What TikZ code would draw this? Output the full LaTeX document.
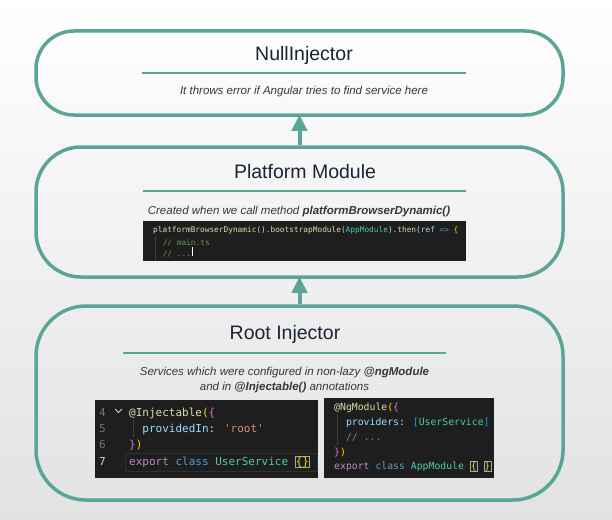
\documentclass[tikz,border=0pt]{standalone}
\usepackage{fontspec}
\setmainfont{Liberation Sans}
\newfontfamily\codefont{DejaVu Sans Mono}
\usetikzlibrary{arrows.meta}
\definecolor{teal1}{RGB}{90,165,152}
\definecolor{navy}{RGB}{25,36,52}
\definecolor{subgray}{RGB}{55,55,55}
\definecolor{codebg}{RGB}{30,30,30}
\definecolor{cfn}{RGB}{220,220,170}
\definecolor{cvar}{RGB}{156,220,254}
\definecolor{cstr}{RGB}{206,145,120}
\definecolor{ckw}{RGB}{197,134,192}
\definecolor{cblue}{RGB}{86,156,214}
\definecolor{ctype}{RGB}{78,201,176}
\definecolor{cgold}{RGB}{255,215,0}
\definecolor{corch}{RGB}{218,112,214}
\definecolor{cbr}{RGB}{23,159,255}
\definecolor{ccom}{RGB}{106,153,85}
\definecolor{cplain}{RGB}{212,212,212}
\definecolor{clnum}{RGB}{110,118,129}
\definecolor{cguide}{RGB}{64,64,64}
\definecolor{bgbot}{RGB}{226,226,226}
\definecolor{cline}{RGB}{48,48,48}
\begin{document}
\begin{tikzpicture}[x=1pt,y=-1pt,
  layer/.style={draw=teal1, line width=3.5pt, minimum width=527pt, inner sep=0pt},
  title/.style={anchor=base, inner sep=0pt, text=navy, font=\fontsize{19.5}{22}\selectfont},
  sub/.style={anchor=base, inner sep=0pt, text=subgray, font=\fontsize{11.5}{14}\selectfont\itshape},
  sepline/.style={draw=teal1, line width=1.3pt},
  link/.style={draw=teal1, line width=4pt, shorten >=-2pt, -{Triangle[width=15pt,length=16pt]}},
  codebox/.style={fill=codebg, draw=none, inner sep=0pt, anchor=north west},
  code/.style={anchor=base west, inner sep=0pt, text=cplain},
  codeS/.style={code, font=\codefont\fontsize{7.8}{9}\selectfont},
  codeL/.style={code, font=\codefont\fontsize{11}{13}\selectfont},
  codeM/.style={code, font=\codefont\fontsize{9.8}{12}\selectfont},
  guide/.style={draw=cguide, line width=0.7pt},
  matchbox/.style={draw=gray!70, line width=0.5pt, inner sep=0.6pt, anchor=base west, text=cgold}
]
\useasboundingbox (0,0) rectangle (612,519);
\shade[top color=white, middle color=white, bottom color=bgbot] (0,0) rectangle (612,519);

% layers
\node[layer, rounded corners=38pt, minimum height=84pt] (null) at (299.5,73) {};
\node[layer, rounded corners=45pt, minimum height=130pt] (platform) at (299.5,212) {};
\node[layer, rounded corners=50pt, minimum height=194pt] (root) at (299.5,403) {};

\draw[link] (platform.north) -- (null.south);
\draw[link] (root.north) -- (platform.south);

% NullInjector
\node[title] (t1) at (304,60) {NullInjector};
\draw[sepline] (142,73) -- (466,73);
\node[sub] (s1) at (304,94) {It throws error if Angular tries to find service here};

% Platform Module
\node[title] (t2) at (305,178) {Platform Module};
\draw[sepline] (143,191) -- (466,191);
\node[sub] (s2) at (299,214) {Created when we call method \textbf{platformBrowserDynamic()}};
\node[codebox, minimum width=323pt, minimum height=40pt] (pcode) at (143,221) {};
\node[codeS] (p1) at (153,232) {\textcolor{cfn}{platformBrowserDynamic}().\textcolor{cfn}{bootstrapModule}(\textcolor{ctype}{AppModule}).\textcolor{cfn}{then}(\textcolor{cvar}{ref} \textcolor{cblue}{=>} \textcolor{cgold}{\{}};
\draw[guide] (155.5,236) -- (155.5,261);
\node[codeS, text=ccom] (p2) at (162.6,245) {// main.ts};
\node[codeS, text=ccom] (p3) at (162.6,256) {// ...};
\draw[white, line width=0.7pt] ([xshift=1pt]p3.base east) -- ++(0,-9);

% Root Injector
\node[title] (t3) at (285,339) {Root Injector};
\draw[sepline] (123,353) -- (446,353);
\node[sub] (s3a) at (284.5,375) {Services which were configured in non-lazy \textbf{@ngModule}};
\node[sub] (s3b) at (284.5,390) {and in \textbf{@Injectable()} annotations};

% left code
\node[codebox, minimum width=223pt, minimum height=78pt] (lcode) at (95,400) {};
\draw[draw=cline, line width=1pt] (125,453) rectangle (317.5,471);
\node[codeL, text=clnum] (n4) at (99,416) {4};
\node[codeL, text=clnum] (n5) at (99,432) {5};
\node[codeL, text=clnum] (n6) at (99,448) {6};
\node[codeL, text=cplain] (n7) at (99,465) {7};
\draw[cplain, line width=0.8pt] (115,409) -- (118.5,412.5) -- (122,409);
\node[codeL] (l4) at (129,416) {\textcolor{cfn}{@Injectable}\textcolor{cgold}{(}\textcolor{corch}{\{}};
\draw[guide] (133,420) -- (133,437);
\node[codeL] (l5) at (142.2,432) {\textcolor{cvar}{providedIn}: \textcolor{cstr}{'root'}};
\node[codeL] (l6) at (129,448) {\textcolor{corch}{\}}\textcolor{cgold}{)}};
\node[codeL] (l7) at (129,465) {\textcolor{ckw}{export} \textcolor{cblue}{class} \textcolor{ctype}{UserService}};
\node[matchbox, font=\codefont\fontsize{11}{13}\selectfont] (l7b) at ([xshift=6.6pt]l7.base east) {\{\}};

% right code
\node[codebox, minimum width=170pt, minimum height=80pt] (rcode) at (324,398) {};
\node[codeM] (r1) at (334,410.5) {\textcolor{cfn}{@NgModule}\textcolor{cgold}{(}\textcolor{corch}{\{}};
\draw[guide] (337,414) -- (337,445);
\node[codeM] (r2) at (345.8,425.5) {\textcolor{cvar}{providers}: \textcolor{cbr}{[}\textcolor{ctype}{UserService}\textcolor{cbr}{]}};
\node[codeM, text=ccom] (r3) at (345.8,440.5) {// ...};
\node[codeM] (r4) at (334,455) {\textcolor{corch}{\}}\textcolor{cgold}{)}};
\node[codeM] (r5) at (334,469.5) {\textcolor{ckw}{export} \textcolor{cblue}{class} \textcolor{ctype}{AppModule}};
\node[matchbox, font=\codefont\fontsize{9.8}{12}\selectfont] (r5a) at ([xshift=5.9pt]r5.base east) {\{};
\node[matchbox, font=\codefont\fontsize{9.8}{12}\selectfont] (r5b) at ([xshift=5.9pt]r5a.base east) {\}};
\end{tikzpicture}
\end{document}
